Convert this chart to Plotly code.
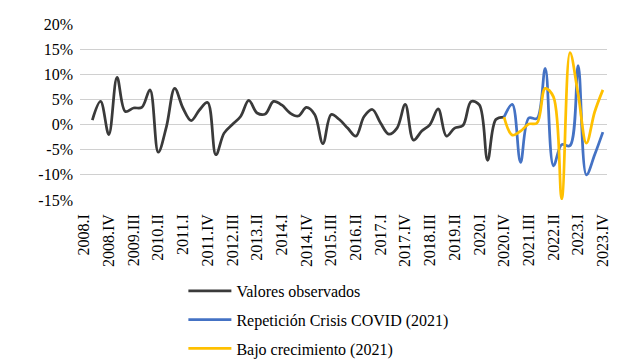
import plotly.graph_objects as go

years = list(range(2008, 2024))
quarters = ["I", "II", "III", "IV"]
categories = [f"{y}.{q}" for y in years for q in quarters]

tick_labels = ["2008.I", "2008.IV", "2009.III", "2010.II", "2011.I", "2011.IV",
               "2012.III", "2013.II", "2014.I", "2014.IV", "2015.III", "2016.II",
               "2017.I", "2017.IV", "2018.III", "2019.II", "2020.I", "2020.IV",
               "2021.III", "2022.II", "2023.I", "2023.IV"]

observed = [None, 0.9, 4.6, -2.0, 9.4, 2.6, 3.3, 3.4, 6.9, -5.5, -0.4, 7.2,
            3.3, 0.8, 2.9, 4.4, -6.0, -1.7, 0.0, 1.6, 4.8, 2.3, 2.1, 4.6,
            3.9, 2.3, 1.7, 3.4, 2.0, -3.8, 2.0, 1.0, -0.7, -2.3, 1.6, 3.0,
            0.3, -1.9, -0.7, 4.0, -3.1, -1.3, 0.0, 3.1, -2.3, -0.7, -0.2, 4.6,
            3.9, -7.1, 1.0, 1.5]

scenario_cats = categories[51:]
covid_repeat = [1.5, 4.0, -7.5, 1.3, 1.2, 11.2, -8.2, -4.0, -4.2, 11.7, -10.0, -6.0, -1.5]
low_growth = [1.5, -2.1, -1.3, 0.1, 0.3, 7.2, 5.5, -14.8, 14.3, 6.0, -3.7, 2.5, 6.9]

y_ticks = [-15, -10, -5, 0, 5, 10, 15, 20]
y_ticktext = ["-15%", "-10%", "-5%", "0%", "5%", "10%", "15%", "20%"]

serif = "Liberation Serif, Times New Roman, serif"

fig = go.Figure()
fig.add_trace(go.Scatter(x=categories[:len(observed)], y=observed, mode="lines",
                         name="Valores observados", legendgroup="a",
                         line=dict(color="#3a3a3a", width=2.75, shape="spline", smoothing=1)))
fig.add_trace(go.Scatter(x=scenario_cats, y=covid_repeat, mode="lines",
                         name="Repetición Crisis COVID (2021)", legendgroup="b",
                         line=dict(color="#4472C4", width=2.75, shape="spline", smoothing=1)))
fig.add_trace(go.Scatter(x=scenario_cats, y=low_growth, mode="lines",
                         name="Bajo crecimiento (2021)", legendgroup="c",
                         line=dict(color="#FFC000", width=2.75, shape="spline", smoothing=1)))

# page body has an 8px margin, so the figure is 8px smaller than the window
fig.update_layout(
    width=632, height=351,
    margin=dict(l=72, r=33, t=16, b=159, autoexpand=False),
    paper_bgcolor="white", plot_bgcolor="white",
    font=dict(family=serif, size=16, color="black"),
    showlegend=True,
    legend=dict(orientation="v", xref="container", yref="container",
                x=0.2775, xanchor="left", y=0.2422, yanchor="top",
                font=dict(family=serif, size=16, color="black"),
                tracegroupgap=5, itemwidth=43, bgcolor="rgba(0,0,0,0)"),
    xaxis=dict(type="category", categoryorder="array", categoryarray=categories,
               range=[-0.5, len(categories) - 0.5], automargin=False,
               tickmode="array", tickvals=tick_labels, ticktext=tick_labels,
               tickangle=-90, tickfont=dict(family=serif, size=16, color="black"),
               showgrid=False, showline=False, ticks="", zeroline=False,
               ticklabelstandoff=10),
    yaxis=dict(range=[-15, 20], tickmode="array", tickvals=y_ticks, ticktext=y_ticktext,
               automargin=False,
               tickfont=dict(family=serif, size=16, color="black"),
               showgrid=True, gridcolor="#d0d0d0", gridwidth=1,
               zeroline=False, showline=False, ticks="", ticklabelstandoff=6),
)

fig.write_html("out.html")
